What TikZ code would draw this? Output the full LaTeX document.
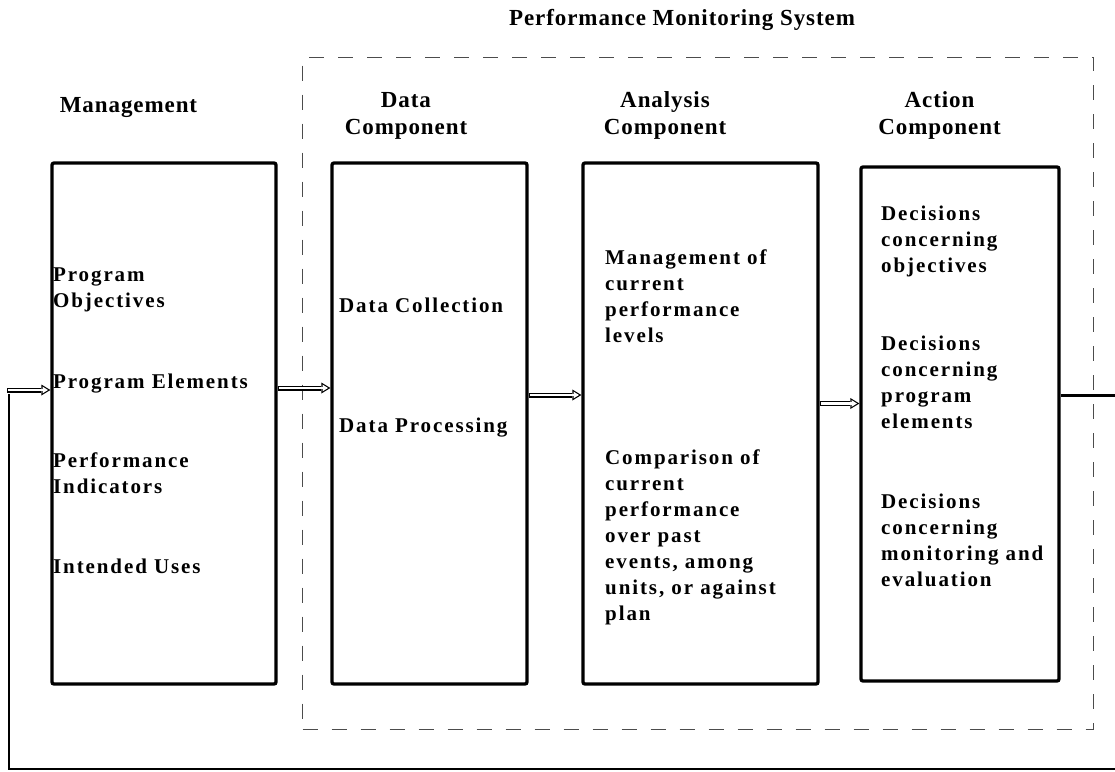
\documentclass[tikz,border=0pt]{standalone}
\usepackage{fontspec}
\setmainfont{Liberation Serif}
\newfontfamily\hdfont{Liberation Serif}[LetterSpace=4]
\newfontfamily\bxfont{Liberation Serif}[LetterSpace=9]
\usetikzlibrary{arrows.meta}
\begin{document}
\begin{tikzpicture}[x=1pt,y=-1pt,
  box/.style={draw, line width=3.3pt, rounded corners=2pt, inner sep=0pt},
  frame/.style={draw=black!70, line width=1.3pt, dash pattern=on 15pt off 14pt, anchor=north west, inner sep=0pt},
  head/.style={font=\hdfont\bfseries\fontsize{23}{27}\selectfont, align=center, anchor=base, inner sep=0pt},
  btext/.style={font=\bxfont\bfseries\fontsize{21}{26}\selectfont, align=left, anchor=base west, inner sep=0pt},
  haouter/.style={line width=5pt, -{Triangle[length=9pt,width=11pt,line width=0pt]}},
  hainner/.style={white, line width=2.6pt, shorten <=1.2pt, shorten >=2.4pt, -{Triangle[length=5.4pt,width=6.8pt,line width=0pt]}},
  fb/.style={line width=2.2pt}
]
\useasboundingbox (0,0) rectangle (1115,771);

% frame and title
\node[frame, minimum width=791pt, minimum height=672pt] (pms) at (302,57) {};
\node[head] (title) at (682,25) {Performance Monitoring System};

% headers (anchor = baseline of last line)
\node[head] (hmgmt) at (128.5,112) {Management};
\node[head] (hdata) at (406,134) {Data\\Component};
\node[head] (hana) at (665,134) {Analysis\\Component};
\node[head] (hact) at (939.5,134) {Action\\Component};

% boxes
\node[box, minimum width=224pt, minimum height=521pt] (mgmt) at (164,423.5) {};
\node[box, minimum width=195pt, minimum height=521pt] (data) at (429.5,423.5) {};
\node[box, minimum width=235pt, minimum height=521pt] (ana) at (700.5,423.5) {};
\node[box, minimum width=198pt, minimum height=514pt] (act) at (960,424) {};

% management texts
\node[btext] (m1) at (53,307) {Program\\Objectives};
\node[btext] (m2) at (53,388) {Program Elements};
\node[btext] (m3) at (53,493) {Performance\\Indicators};
\node[btext] (m4) at (53,573) {Intended Uses};

% data texts
\node[btext] (d1) at (339,312) {Data Collection};
\node[btext] (d2) at (339,432) {Data Processing};

% analysis texts
\node[btext] (a1) at (605,342) {Management of\\current\\performance\\levels};
\node[btext] (a2) at (605,620) {Comparison of\\current\\performance\\over past\\events, among\\units, or against\\plan};

% action texts
\node[btext] (c1) at (881,272) {Decisions\\concerning\\objectives};
\node[btext] (c2) at (881,428) {Decisions\\concerning\\program\\elements};
\node[btext] (c3) at (881,586) {Decisions\\concerning\\monitoring and\\evaluation};

% flow arrows (hollow)
\foreach \s/\t/\d in {mgmt/data/35.5, data/ana/28.5, ana/act/20}{
  \draw[haouter] ([yshift=\d pt]\s.east) -- ([yshift=\d pt]\s.east -| \t.west);
  \draw[hainner] ([yshift=\d pt]\s.east) -- ([yshift=\d pt]\s.east -| \t.west);
}

% feedback loop
\coordinate (fbin) at (7,390);
\coordinate (fbr) at (1125,395);
\coordinate (fbb) at (9,769);
\coordinate (fbtop) at (9,394);
\draw[line width=3pt] (act.east |- fbr) -- (fbr);
\draw[fb] (fbr) -- (fbr |- fbb) -- (fbb) -- (fbtop);
\draw[haouter] (fbin) -- (fbin -| mgmt.west);
\draw[hainner] (fbin) -- (fbin -| mgmt.west);
\end{tikzpicture}
\end{document}
